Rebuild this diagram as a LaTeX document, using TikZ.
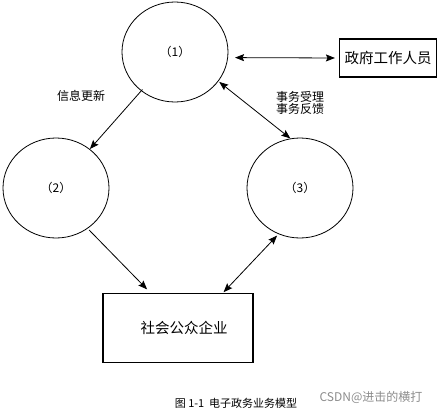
\documentclass[tikz,border=0pt]{standalone}
\usepackage{fontspec}
\setmainfont{Noto Sans CJK SC}
\usetikzlibrary{shapes.geometric,arrows.meta}
\tikzset{
    stage/.style = {ellipse, draw=black, line width=0.8pt, minimum width=106pt, minimum height=100pt, font=\fontsize{12}{14}\selectfont},
    party/.style = {rectangle, draw=black, line width=1.1pt, text centered, font=\fontsize{14.5}{16}\selectfont},
    arrow/.style = {line width=0.8pt, -{Stealth[length=9pt,width=7pt,inset=1.5pt]}},
    twoway/.style = {line width=0.8pt, {Stealth[length=9pt,width=7pt,inset=1.5pt]}-{Stealth[length=9pt,width=7pt,inset=1.5pt]}},
    note/.style = {font=\fontsize{12}{14}\selectfont, align=center}
}
\begin{document}
\begin{tikzpicture}[x=1pt,y=-1pt]
\useasboundingbox (0,0) rectangle (445,413);
\node (top) [stage] at (175,52) {（1）};
\node (left) [stage] at (56,188) {（2）};
\node (right) [stage] at (300,188) {（3）};
\node (staff) [party, minimum width=97pt, minimum height=38pt] at (388,58) {政府工作人员};
\node (public) [party, minimum width=150pt, minimum height=69pt] at (178,328) {\hspace*{12pt}社会公众企业};

\node (update) [note] at (81,96) {信息更新};
\node (service) [note] at (300,103) {事务受理\\[-2pt]事务反馈};

\draw [twoway, shorten <=7pt, shorten >=4pt] (top.-6) -- (staff.west);
\draw [arrow, shorten <=-2pt] (top.-131) -- (left.49);
\draw [twoway, shorten <=1pt] (top.-34) -- (right.101);
\draw [arrow, shorten <=2pt, shorten >=5pt] (left.-52) -- (public.128);
\draw [twoway, shorten <=2pt, shorten >=1pt] (right.-115) -- (public.38);

\node (caption) [font=\fontsize{11}{13}\selectfont] at (236,403) {图 1-1\ \ 电子政务业务模型};
\node (mark) [font=\fontsize{12}{14}\selectfont, text=black!45] at (371,397) {CSDN@进击的横打};
\end{tikzpicture}
\end{document}
